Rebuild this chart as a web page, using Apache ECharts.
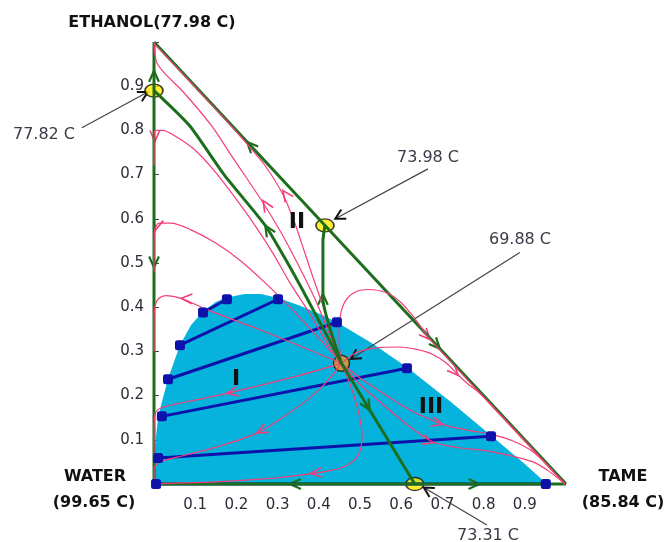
<!DOCTYPE html>
<html>
<head>
<meta charset="utf-8">
<script src="https://cdn.jsdelivr.net/npm/echarts@6.0.0/dist/echarts.min.js"></script>
<style>
html, body { margin: 0; padding: 0; background: #fff; }
#chart { width: 667px; height: 542px; }
</style>
</head>
<body>
<div id="chart"></div>
<script>
// x = TAME mole fraction, y = ETHANOL mole fraction (water is the rest)
var tickLabels = ['0.1', '0.2', '0.3', '0.4', '0.5', '0.6', '0.7', '0.8', '0.9']

// liquid-liquid envelope (binodal)
var envX = [0, 0.002, 0.005, 0.010, 0.019, 0.034, 0.050, 0.063, 0.090, 0.119, 0.150, 0.177, 0.220, 0.260, 0.301, 0.350, 0.400, 0.444, 0.530, 0.614, 0.720, 0.818, 0.900, 0.954, 0]
var envY = [0, 0.060, 0.110, 0.150, 0.185, 0.237, 0.280, 0.314, 0.360, 0.390, 0.412, 0.422, 0.430, 0.430, 0.421, 0.405, 0.386, 0.366, 0.318, 0.264, 0.186, 0.110, 0.045, 0, 0]

// tie lines, left end and right end
var tieLeft = [[0.005, 0], [0.010, 0.059], [0.019, 0.153], [0.034, 0.237], [0.063, 0.314], [0.119, 0.388]]
var tieRight = [[0.951, 0], [0.818, 0.108], [0.614, 0.262], [0.444, 0.366], [0.301, 0.418], [0.177, 0.418]]

// azeotropes
var azeoTernary = [[0.455, 0.273]]
var azeoBinary = [[0, 0.89], [0.415, 0.585], [0.633, 0]]

// triangle edges
var edgeLeft = [[0, 0], [0, 1]]
var edgeBase = [[0, 0], [1, 0]]
var edgeHyp = [[0, 1], [1, 0]]

// distillation boundaries
var bound1 = [[0, 0.89], [0.087, 0.81], [0.17, 0.70], [0.27, 0.585], [0.315, 0.515], [0.36, 0.44], [0.40, 0.37], [0.43, 0.318], [0.455, 0.273]]
var bound2 = [[0.415, 0.585], [0.41, 0.55], [0.41, 0.42], [0.455, 0.273]]
var bound3 = [[0.455, 0.273], [0.524, 0.167], [0.633, 0]]

// residue curves (start at the ternary azeotrope)
var rc1 = [[0.455, 0.273], [0.42, 0.32], [0.375, 0.39], [0.33, 0.455], [0.29, 0.52], [0.245, 0.585], [0.195, 0.65], [0.145, 0.71], [0.10, 0.755], [0.055, 0.785], [0.02, 0.80], [0.004, 0.80], [0, 0.78], [0, 0.72]]
var rc2 = [[0.455, 0.273], [0.40, 0.33], [0.33, 0.40], [0.27, 0.455], [0.21, 0.505], [0.15, 0.545], [0.09, 0.575], [0.04, 0.59], [0.012, 0.59], [0.002, 0.575], [0, 0.54], [0, 0.48]]
var rc3 = [[0.455, 0.273], [0.36, 0.31], [0.26, 0.348], [0.177, 0.377], [0.12, 0.398], [0.066, 0.42], [0.03, 0.426], [0.01, 0.418], [0.002, 0.40], [0, 0.36], [0, 0.30]]
var rc4 = [[0.455, 0.273], [0.33, 0.24], [0.177, 0.205], [0.08, 0.186], [0.02, 0.173], [0.003, 0.16], [0, 0.12], [0, 0.06]]
var rc5 = [[0.455, 0.273], [0.42, 0.232], [0.38, 0.196], [0.313, 0.151], [0.25, 0.115], [0.153, 0.084], [0.07, 0.064], [0.015, 0.05], [0, 0.035], [0, 0]]
var rc6 = [[0.455, 0.273], [0.478, 0.22], [0.497, 0.16], [0.505, 0.11], [0.497, 0.068], [0.468, 0.042], [0.42, 0.029], [0.38, 0.023], [0.30, 0.014], [0.15, 0.005], [0.02, 0.001], [0, 0]]
var rcA = [[0.455, 0.273], [0.43, 0.33], [0.39, 0.42], [0.345, 0.505], [0.306, 0.573], [0.26, 0.643], [0.19, 0.74], [0.14, 0.81], [0.07, 0.888], [0.025, 0.93], [0.006, 0.955], [0, 1]]
var rcB = [[0.455, 0.273], [0.44, 0.32], [0.415, 0.39], [0.385, 0.47], [0.36, 0.54], [0.34, 0.595], [0.313, 0.655], [0.27, 0.72], [0.23, 0.765], [0.20, 0.797], [0.15, 0.848], [0.08, 0.918], [0, 0.997]]
var rc7 = [[0.455, 0.273], [0.449, 0.33], [0.452, 0.38], [0.465, 0.415], [0.49, 0.435], [0.52, 0.44], [0.566, 0.432], [0.60, 0.41], [0.635, 0.372], [0.665, 0.333], [0.70, 0.297], [0.80, 0.197], [0.90, 0.097], [0.997, 0]]
var rc8 = [[0.455, 0.273], [0.49, 0.297], [0.54, 0.308], [0.597, 0.31], [0.64, 0.304], [0.677, 0.293], [0.71, 0.273], [0.74, 0.245], [0.765, 0.224], [0.79, 0.206], [0.85, 0.148], [0.92, 0.078], [0.997, 0]]
var rc9 = [[0.455, 0.273], [0.50, 0.24], [0.556, 0.205], [0.62, 0.168], [0.70, 0.135], [0.76, 0.122], [0.816, 0.113], [0.87, 0.098], [0.92, 0.073], [0.96, 0.037], [0.997, 0]]
var rc10 = [[0.455, 0.273], [0.50, 0.225], [0.556, 0.18], [0.62, 0.13], [0.677, 0.095], [0.74, 0.082], [0.80, 0.076], [0.87, 0.063], [0.92, 0.05], [0.96, 0.028], [0.995, 0.002]]

// arrow heads: tip x, tip y, direction dx, dy
var pinkArrows = [[0.002, 0.775, 0, -1], [0.004, 0.575, -0.3, -1], [0.066, 0.42, -1, 0.05], [0.177, 0.205, -1, -0.2],
    [0.25, 0.115, -1, -0.5], [0.38, 0.024, -1, -0.08], [0.265, 0.641, -0.65, 1], [0.313, 0.664, -0.75, 1],
    [0.67, 0.327, 1, -1], [0.738, 0.246, 1, -1], [0.70, 0.135, 1, -0.25], [0.677, 0.093, 1, -0.3]]
var greenArrows = [[0.226, 0.774, -1, 1], [0.694, 0.306, 1, -1], [0.33, 0, -1, 0], [0.79, 0, 1, 0], [0, 0.935, 0, 1],
    [0, 0.49, 0, -1], [0.27, 0.585, -0.6, 0.9], [0.41, 0.43, 0, 1], [0.524, 0.167, 0.65, -1]]

// label pointers: from x, from y, to x, to y
var pointers = [[-0.175, 0.806, -0.015, 0.887], [0.665, 0.713, 0.44, 0.60], [0.888, 0.524, 0.478, 0.283], [0.808, -0.093, 0.655, -0.008]]

var PINK = '#f53d78'
var GREEN = '#1c6e1c'
var BLUE = '#0c12aa'
var CYAN = '#05b3dc'

var chart = echarts.init(document.getElementById('chart'))

function arrowRender(len, spread, color, width) {
    return function (params, api) {
        var tip = api.coord([api.value(0), api.value(1)])
        var ahead = api.coord([api.value(0) + api.value(2) * 0.01, api.value(1) + api.value(3) * 0.01])
        var ang = Math.atan2(ahead[1] - tip[1], ahead[0] - tip[0])
        var b1 = [tip[0] - len * Math.cos(ang - spread), tip[1] - len * Math.sin(ang - spread)]
        var b2 = [tip[0] - len * Math.cos(ang + spread), tip[1] - len * Math.sin(ang + spread)]
        return {
            type: 'polyline',
            shape: { points: [b1, tip, b2] },
            style: { stroke: color, lineWidth: width, fill: null }
        }
    }
}

function curve(data, color, width, smooth) {
    return {
        type: 'line', data: data, symbol: 'none', smooth: smooth, clip: false, silent: true,
        lineStyle: { color: color, width: width }
    }
}

var series = []

// two-liquid region
series.push({
    type: 'custom', clip: false, silent: true, data: [[0, 0]],
    renderItem: function (params, api) {
        var pts = envX.map(function (x, i) { return api.coord([x, envY[i]]) })
        return { type: 'polygon', shape: { points: pts }, style: { fill: CYAN } }
    }
})

// tie lines
tieLeft.forEach(function (p, i) {
    series.push({
        type: 'line', data: [p, tieRight[i]], clip: false, silent: true,
        symbol: 'roundRect', symbolSize: 10,
        lineStyle: { color: BLUE, width: 3 }, itemStyle: { color: BLUE }
    })
})

// green edges
;[edgeLeft, edgeBase, edgeHyp].forEach(function (d) { series.push(curve(d, GREEN, 3, false)) })

// residue curves
;[rc1, rc2, rc3, rc4, rc5, rc6, rcA, rcB, rc7, rc8, rc9, rc10].forEach(function (d) {
    series.push(curve(d, PINK, 1.2, 0.3))
})
series.push({ type: 'custom', clip: false, silent: true, data: pinkArrows, renderItem: arrowRender(12, 0.42, PINK, 1.6) })

// distillation boundaries
;[bound1, bound2, bound3].forEach(function (d) { series.push(curve(d, GREEN, 3, 0.2)) })
series.push({ type: 'custom', clip: false, silent: true, data: greenArrows, renderItem: arrowRender(12, 0.42, GREEN, 2.2) })

// label pointers
series.push({
    type: 'custom', clip: false, silent: true, data: pointers,
    renderItem: function (params, api) {
        var a = api.coord([api.value(0), api.value(1)])
        var b = api.coord([api.value(2), api.value(3)])
        var ang = Math.atan2(b[1] - a[1], b[0] - a[0])
        var len = 11, sp = 0.5
        return {
            type: 'group',
            children: [
                { type: 'line', shape: { x1: a[0], y1: a[1], x2: b[0], y2: b[1] }, style: { stroke: '#444', lineWidth: 1.2 } },
                {
                    type: 'polyline',
                    shape: { points: [[b[0] - len * Math.cos(ang - sp), b[1] - len * Math.sin(ang - sp)], b, [b[0] - len * Math.cos(ang + sp), b[1] - len * Math.sin(ang + sp)]] },
                    style: { stroke: '#111', lineWidth: 2, fill: null }
                }
            ]
        }
    }
})

// azeotropes
series.push({
    type: 'scatter', data: azeoBinary, clip: false, silent: true, symbol: 'circle', symbolSize: [18, 13],
    itemStyle: { color: '#ffec00', borderColor: '#111', borderWidth: 1.5 }
})
series.push({
    type: 'scatter', data: azeoTernary, clip: false, silent: true, symbol: 'circle', symbolSize: 16,
    itemStyle: { color: '#f7931e', borderColor: '#111', borderWidth: 1.5 }
})

function txt(text, x, y, font, color) {
    return {
        type: 'text', x: x, y: y, z: 100, silent: true,
        style: { text: text, font: font, fill: color, textAlign: 'center', textVerticalAlign: 'middle', align: 'center', verticalAlign: 'middle' }
    }
}
var BOLD = 'bold 16px "DejaVu Sans"'
var NORM = '16px "DejaVu Sans"'
var ROMAN = 'bold 22px "DejaVu Sans"'

chart.setOption({
    animation: false,
    backgroundColor: '#fff',
    grid: { left: 154, right: 101, top: 42, bottom: 58 },
    xAxis: {
        type: 'value', min: 0, max: 1, interval: 0.1,
        axisLine: { show: false }, axisTick: { show: false }, splitLine: { show: false },
        axisLabel: {
            margin: 14, color: '#2c2c3a', fontSize: 15, fontFamily: 'DejaVu Sans',
            formatter: function (v) { var s = v.toFixed(1); return tickLabels.indexOf(s) >= 0 ? s : '' }
        }
    },
    yAxis: {
        type: 'value', min: 0, max: 1, interval: 0.1,
        axisLine: { show: false }, splitLine: { show: false },
        axisTick: { show: true, inside: true, length: 5, lineStyle: { color: '#444', width: 1 } },
        axisLabel: {
            margin: 10, color: '#2c2c3a', fontSize: 15, fontFamily: 'DejaVu Sans',
            formatter: function (v) { var s = v.toFixed(1); return tickLabels.indexOf(s) >= 0 ? s : '' }
        }
    },
    graphic: [
        txt('ETHANOL(77.98 C)', 152, 23, BOLD, '#111'),
        txt('WATER', 95, 477, BOLD, '#111'),
        txt('(99.65 C)', 94, 503, BOLD, '#111'),
        txt('TAME', 623, 477, BOLD, '#111'),
        txt('(85.84 C)', 623, 503, BOLD, '#111'),
        txt('77.82 C', 44, 135, NORM, '#3a3a48'),
        txt('73.98 C', 428, 158, NORM, '#3a3a48'),
        txt('69.88 C', 520, 240, NORM, '#3a3a48'),
        txt('73.31 C', 488, 536, NORM, '#3a3a48'),
        txt('I', 236, 379, ROMAN, '#111'),
        txt('II', 297, 222, ROMAN, '#111'),
        txt('III', 431, 407, ROMAN, '#111')
    ],
    series: series
})
</script>
</body>
</html>
